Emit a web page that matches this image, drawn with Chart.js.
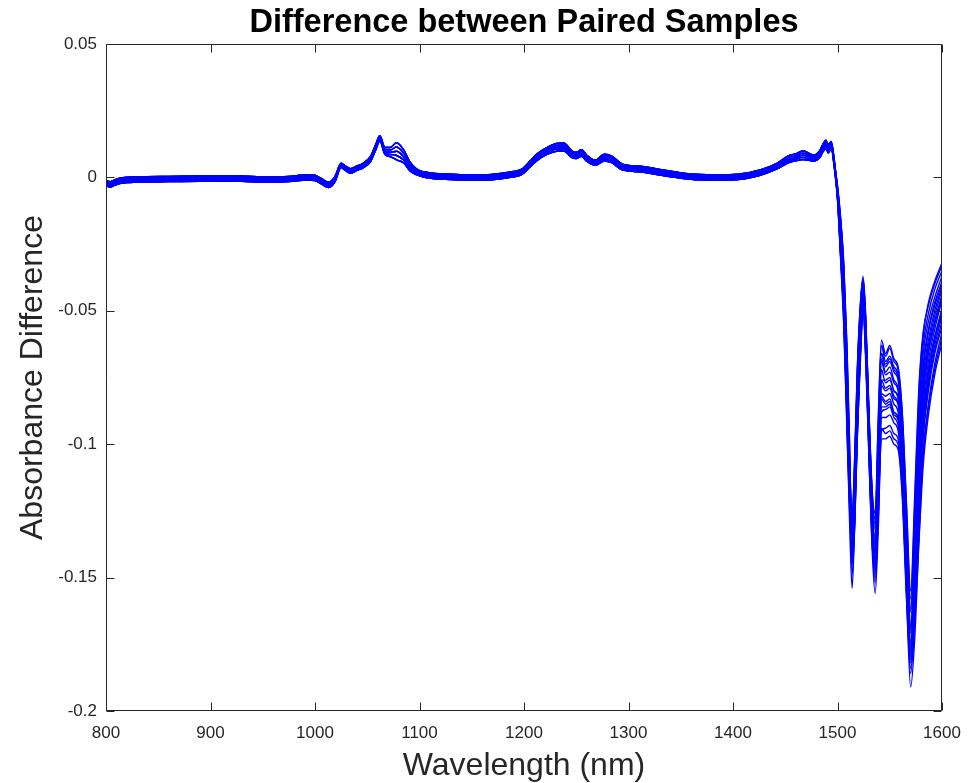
<!DOCTYPE html>
<html>
<head>
<meta charset="utf-8">
<script src="https://cdn.jsdelivr.net/npm/chart.js@4/dist/chart.umd.min.js"></script>
<style>
  html, body { margin: 0; padding: 0; background: #fff; }
  canvas { display: block; }
</style>
</head>
<body>
<canvas id="diffChart" width="978" height="783"></canvas>
<script>
// ---- data ----
const xTicks = [800, 900, 1000, 1100, 1200, 1300, 1400, 1500, 1600];
const yTicks = [-0.2, -0.15, -0.1, -0.05, 0, 0.05];

// shared part of the spectra (800 - 1489 nm): the bundle is tight here, five bands of it
const bodyWl = [800, 804, 808, 813, 822, 835, 860, 890, 906, 930, 954, 975, 992, 1000, 1006, 1013, 1019, 1025, 1029, 1034,
  1040, 1046, 1053, 1058, 1062, 1067, 1072, 1078, 1085, 1091, 1097, 1104, 1115, 1125, 1139, 1160, 1177, 1190, 1198, 1206,
  1212, 1222, 1231, 1238, 1246, 1250, 1255, 1260, 1268, 1277, 1284, 1294, 1311, 1330, 1349, 1368, 1385, 1405, 1426, 1442,
  1453, 1459, 1467, 1472, 1477, 1483, 1486, 1489];

const bodyHigh = [-0.0012, -0.0016, -0.0010, -0.0003, 0.0001, 0.0003, 0.0004, 0.0005, 0.0006, 0.0005, 0.0002, 0.0004, 0.0010, 0.0008, -0.0004, -0.0018, 0.0003, 0.0053, 0.0043, 0.0033,
  0.0043, 0.0053, 0.0078, 0.0122, 0.0156, 0.0112, 0.0112, 0.0130, 0.0102, 0.0057, 0.0032, 0.0021, 0.0015, 0.0013, 0.0010, 0.0009, 0.0015, 0.0022, 0.0031, 0.0062,
  0.0087, 0.0112, 0.0127, 0.0129, 0.0099, 0.0094, 0.0104, 0.0083, 0.0064, 0.0087, 0.0080, 0.0050, 0.0042, 0.0030, 0.0018, 0.0011, 0.0010, 0.0012, 0.0028, 0.0053,
  0.0081, 0.0087, 0.0099, 0.0092, 0.0083, 0.0100, 0.0124, 0.0139];

const bodyMidHigh = [-0.0017, -0.0021, -0.0015, -0.0008, -0.0004, -0.0002, -0.0001, 0.0000, 0.0001, 0.0000, -0.0003, -0.0001, 0.0005, 0.0003, -0.0009, -0.0023, -0.0002, 0.0049, 0.0039, 0.0029,
  0.0039, 0.0049, 0.0073, 0.0117, 0.0152, 0.0105, 0.0103, 0.0114, 0.0089, 0.0047, 0.0026, 0.0016, 0.0010, 0.0008, 0.0005, 0.0004, 0.0010, 0.0017, 0.0026, 0.0056,
  0.0080, 0.0105, 0.0120, 0.0122, 0.0093, 0.0088, 0.0098, 0.0077, 0.0059, 0.0080, 0.0073, 0.0044, 0.0037, 0.0025, 0.0013, 0.0006, 0.0005, 0.0007, 0.0023, 0.0048,
  0.0074, 0.0080, 0.0091, 0.0085, 0.0077, 0.0093, 0.0117, 0.0131];

const bodyMid = [-0.0022, -0.0026, -0.0020, -0.0013, -0.0009, -0.0007, -0.0006, -0.0005, -0.0004, -0.0005, -0.0008, -0.0006, 0.0000, -0.0002, -0.0014, -0.0028, -0.0007, 0.0045, 0.0034, 0.0024,
  0.0034, 0.0044, 0.0068, 0.0112, 0.0148, 0.0098, 0.0094, 0.0098, 0.0076, 0.0038, 0.0020, 0.0011, 0.0005, 0.0003, 0.0000, -0.0001, 0.0005, 0.0012, 0.0021, 0.0050,
  0.0073, 0.0098, 0.0113, 0.0114, 0.0086, 0.0082, 0.0091, 0.0071, 0.0054, 0.0073, 0.0066, 0.0038, 0.0031, 0.0019, 0.0008, 0.0001, 0.0000, 0.0002, 0.0018, 0.0042,
  0.0067, 0.0073, 0.0083, 0.0078, 0.0071, 0.0086, 0.0109, 0.0122];

const bodyMidLow = [-0.0027, -0.0031, -0.0025, -0.0018, -0.0014, -0.0012, -0.0011, -0.0010, -0.0009, -0.0010, -0.0013, -0.0011, -0.0005, -0.0007, -0.0019, -0.0033, -0.0012, 0.0041, 0.0030, 0.0020,
  0.0030, 0.0040, 0.0063, 0.0107, 0.0142, 0.0092, 0.0086, 0.0082, 0.0065, 0.0031, 0.0015, 0.0006, 0.0000, -0.0002, -0.0005, -0.0006, 0.0000, 0.0007, 0.0016, 0.0045,
  0.0067, 0.0092, 0.0106, 0.0107, 0.0080, 0.0077, 0.0085, 0.0066, 0.0050, 0.0067, 0.0060, 0.0033, 0.0026, 0.0014, 0.0003, -0.0004, -0.0005, -0.0003, 0.0013, 0.0037,
  0.0061, 0.0067, 0.0075, 0.0071, 0.0066, 0.0080, 0.0102, 0.0114];

const bodyLow = [-0.0032, -0.0036, -0.0030, -0.0023, -0.0019, -0.0017, -0.0016, -0.0015, -0.0014, -0.0015, -0.0018, -0.0016, -0.0010, -0.0012, -0.0024, -0.0038, -0.0017, 0.0037, 0.0026, 0.0016,
  0.0026, 0.0036, 0.0058, 0.0102, 0.0136, 0.0086, 0.0078, 0.0066, 0.0054, 0.0024, 0.0010, 0.0001, -0.0005, -0.0007, -0.0010, -0.0011, -0.0005, 0.0002, 0.0011, 0.0040,
  0.0062, 0.0086, 0.0098, 0.0099, 0.0074, 0.0071, 0.0079, 0.0061, 0.0045, 0.0061, 0.0055, 0.0028, 0.0021, 0.0009, -0.0002, -0.0009, -0.0010, -0.0008, 0.0008, 0.0032,
  0.0055, 0.0061, 0.0067, 0.0065, 0.0061, 0.0074, 0.0096, 0.0106];

// the 1491 - 1600 nm part, where the paired samples spread apart
const tailWl = [1491, 1494, 1497, 1500, 1503, 1506, 1509, 1511.5, 1514, 1516.5, 1519, 1522, 1524.5, 1527, 1530, 1533,
  1536, 1539, 1542, 1546, 1550, 1554, 1558, 1562, 1566, 1570, 1574, 1578, 1582, 1587, 1593, 1600];

const tails = [
  [0.0122, 0.0136, 0.0065, -0.0050, -0.020, -0.040, -0.075, -0.108, -0.128, -0.105, -0.072, -0.047, -0.037, -0.052, -0.088, -0.118, -0.128, -0.090, -0.061, -0.066, -0.063, -0.068, -0.071, -0.088, -0.122, -0.155, -0.118, -0.078, -0.058, -0.048, -0.040, -0.033],
  [0.0112, 0.0128, 0.0055, -0.0065, -0.024, -0.045, -0.081, -0.114, -0.134, -0.111, -0.078, -0.051, -0.040, -0.056, -0.093, -0.123, -0.135, -0.100, -0.066, -0.070, -0.068, -0.072, -0.075, -0.093, -0.129, -0.163, -0.130, -0.088, -0.066, -0.054, -0.045, -0.037],
  [0.0104, 0.0120, 0.0050, -0.0030, -0.015, -0.032, -0.062, -0.098, -0.138, -0.124, -0.092, -0.060, -0.044, -0.057, -0.090, -0.124, -0.141, -0.112, -0.076, -0.076, -0.075, -0.080, -0.082, -0.099, -0.136, -0.171, -0.146, -0.104, -0.078, -0.063, -0.052, -0.042],
  [0.0110, 0.0121, 0.0045, -0.0080, -0.030, -0.054, -0.092, -0.128, -0.154, -0.128, -0.092, -0.060, -0.045, -0.063, -0.099, -0.132, -0.150, -0.122, -0.082, -0.084, -0.083, -0.088, -0.090, -0.108, -0.146, -0.180, -0.160, -0.120, -0.090, -0.072, -0.060, -0.049],
  [0.0095, 0.0110, 0.0038, -0.0075, -0.028, -0.050, -0.088, -0.120, -0.138, -0.120, -0.092, -0.064, -0.047, -0.066, -0.103, -0.138, -0.156, -0.132, -0.095, -0.094, -0.093, -0.096, -0.098, -0.117, -0.156, -0.191, -0.172, -0.135, -0.104, -0.085, -0.070, -0.058],
  [0.0126, 0.0131, 0.0058, -0.0055, -0.022, -0.043, -0.078, -0.110, -0.131, -0.108, -0.074, -0.049, -0.039, -0.055, -0.090, -0.122, -0.138, -0.104, -0.068, -0.073, -0.071, -0.076, -0.079, -0.096, -0.133, -0.169, -0.140, -0.096, -0.072, -0.058, -0.048, -0.040],
  [0.0100, 0.0118, 0.0048, -0.0035, -0.016, -0.034, -0.066, -0.104, -0.145, -0.130, -0.097, -0.063, -0.046, -0.060, -0.095, -0.130, -0.146, -0.124, -0.088, -0.087, -0.086, -0.090, -0.093, -0.110, -0.147, -0.177, -0.158, -0.122, -0.094, -0.076, -0.063, -0.052],
  [0.0090, 0.0105, 0.0032, -0.0085, -0.031, -0.056, -0.094, -0.124, -0.142, -0.124, -0.096, -0.068, -0.050, -0.069, -0.104, -0.136, -0.148, -0.128, -0.098, -0.098, -0.097, -0.100, -0.102, -0.120, -0.158, -0.184, -0.166, -0.136, -0.108, -0.089, -0.074, -0.062],
  [0.0115, 0.0128, 0.0052, -0.0060, -0.023, -0.044, -0.080, -0.113, -0.136, -0.114, -0.080, -0.052, -0.041, -0.058, -0.092, -0.125, -0.140, -0.108, -0.072, -0.077, -0.076, -0.080, -0.083, -0.100, -0.139, -0.174, -0.150, -0.108, -0.080, -0.065, -0.054, -0.044],
  [0.0105, 0.0122, 0.0050, -0.0040, -0.018, -0.036, -0.070, -0.108, -0.149, -0.130, -0.094, -0.061, -0.046, -0.061, -0.096, -0.129, -0.144, -0.114, -0.078, -0.080, -0.079, -0.083, -0.085, -0.103, -0.141, -0.176, -0.152, -0.112, -0.085, -0.069, -0.057, -0.046],
  [0.0120, 0.0133, 0.0060, -0.0048, -0.019, -0.038, -0.072, -0.106, -0.130, -0.108, -0.076, -0.051, -0.043, -0.057, -0.089, -0.118, -0.132, -0.100, -0.066, -0.071, -0.069, -0.073, -0.076, -0.092, -0.128, -0.162, -0.128, -0.086, -0.063, -0.051, -0.042, -0.035],
  [0.0098, 0.0112, 0.0040, -0.0075, -0.029, -0.052, -0.090, -0.121, -0.139, -0.121, -0.091, -0.064, -0.048, -0.066, -0.101, -0.135, -0.152, -0.126, -0.090, -0.090, -0.089, -0.092, -0.095, -0.113, -0.151, -0.186, -0.164, -0.128, -0.098, -0.080, -0.066, -0.056],
  [0.0118, 0.0129, 0.0055, -0.0058, -0.023, -0.044, -0.079, -0.111, -0.134, -0.110, -0.074, -0.048, -0.038, -0.054, -0.086, -0.117, -0.130, -0.096, -0.063, -0.069, -0.067, -0.071, -0.074, -0.092, -0.131, -0.168, -0.136, -0.094, -0.070, -0.057, -0.047, -0.039],
  [0.0102, 0.0116, 0.0046, -0.0040, -0.017, -0.035, -0.068, -0.106, -0.143, -0.126, -0.093, -0.061, -0.045, -0.060, -0.094, -0.127, -0.141, -0.116, -0.081, -0.082, -0.081, -0.085, -0.088, -0.106, -0.144, -0.179, -0.156, -0.117, -0.089, -0.072, -0.060, -0.050],
  [0.0092, 0.0108, 0.0036, -0.0080, -0.029, -0.051, -0.088, -0.118, -0.132, -0.116, -0.090, -0.066, -0.049, -0.067, -0.101, -0.133, -0.147, -0.126, -0.094, -0.096, -0.095, -0.098, -0.100, -0.118, -0.154, -0.182, -0.164, -0.132, -0.104, -0.086, -0.072, -0.060],
  [0.0112, 0.0124, 0.0052, -0.0062, -0.024, -0.046, -0.083, -0.115, -0.138, -0.115, -0.080, -0.053, -0.042, -0.058, -0.091, -0.123, -0.137, -0.104, -0.069, -0.074, -0.073, -0.077, -0.080, -0.098, -0.136, -0.170, -0.142, -0.100, -0.075, -0.061, -0.050, -0.041],
  [0.0124, 0.0134, 0.0062, -0.0050, -0.020, -0.040, -0.074, -0.107, -0.127, -0.104, -0.071, -0.047, -0.038, -0.053, -0.087, -0.116, -0.126, -0.092, -0.063, -0.067, -0.064, -0.069, -0.072, -0.089, -0.124, -0.158, -0.122, -0.080, -0.059, -0.047, -0.039, -0.032],
  [0.0096, 0.0112, 0.0042, -0.0040, -0.016, -0.033, -0.064, -0.100, -0.141, -0.128, -0.097, -0.065, -0.048, -0.063, -0.098, -0.131, -0.145, -0.120, -0.086, -0.086, -0.085, -0.089, -0.091, -0.109, -0.148, -0.178, -0.160, -0.124, -0.096, -0.078, -0.065, -0.054],
  [0.0108, 0.0120, 0.0048, -0.0068, -0.026, -0.048, -0.085, -0.117, -0.140, -0.118, -0.084, -0.056, -0.044, -0.060, -0.094, -0.126, -0.143, -0.112, -0.076, -0.079, -0.078, -0.082, -0.085, -0.103, -0.141, -0.175, -0.148, -0.108, -0.082, -0.066, -0.055, -0.045],
  [0.0100, 0.0114, 0.0040, -0.0072, -0.027, -0.050, -0.087, -0.118, -0.136, -0.117, -0.087, -0.059, -0.046, -0.063, -0.098, -0.131, -0.146, -0.118, -0.083, -0.085, -0.084, -0.088, -0.090, -0.108, -0.146, -0.181, -0.158, -0.119, -0.091, -0.074, -0.061, -0.051]
];

const bodies = [bodyHigh, bodyMidHigh, bodyMid, bodyMidLow, bodyLow];

// ---- style ----
const FONT = "'Liberation Sans', Arial, Helvetica, sans-serif";
const AXIS_COLOR = "#262626";
const LINE_COLOR = "#0000ff";
const TICK_LEN = 8;

const datasets = tails.map((tail, i) => {
    const body = bodies[i % bodies.length];
    const pts = bodyWl.map((w, j) => ({ x: w, y: body[j] }))
        .concat(tailWl.map((w, j) => ({ x: w, y: tail[j] })));
    return {
        data: pts,
        borderColor: LINE_COLOR,
        borderWidth: 1.4,
        pointRadius: 0,
        fill: false,
        cubicInterpolationMode: "monotone"
    };
});

// MATLAB-like box: outline on all four sides with inward ticks
const boxPlugin = {
    id: "matlabBox",
    afterDraw(chart) {
        const { ctx, chartArea: a, scales: { x, y } } = chart;
        const L = Math.round(a.left) + 0.5, R = Math.round(a.right) - 0.5;
        const T = Math.round(a.top) + 0.5, B = Math.round(a.bottom) - 0.5;
        ctx.save();
        ctx.strokeStyle = AXIS_COLOR;
        ctx.lineWidth = 1;
        ctx.beginPath();
        ctx.rect(L, T, R - L, B - T);
        xTicks.forEach(v => {
            const px = Math.round(x.getPixelForValue(v)) + 0.5;
            ctx.moveTo(px, B); ctx.lineTo(px, B - TICK_LEN);
            ctx.moveTo(px, T); ctx.lineTo(px, T + TICK_LEN);
        });
        yTicks.forEach(v => {
            const py = Math.round(y.getPixelForValue(v)) + 0.5;
            ctx.moveTo(L, py); ctx.lineTo(L + TICK_LEN, py);
            ctx.moveTo(R, py); ctx.lineTo(R - TICK_LEN, py);
        });
        ctx.stroke();
        ctx.restore();
    }
};

new Chart(document.getElementById("diffChart"), {
    type: "line",
    data: { datasets },
    options: {
        responsive: false,
        animation: false,
        events: [],
        layout: { padding: { left: 0, right: 36, top: 0, bottom: 0 } },
        plugins: {
            legend: { display: false },
            tooltip: { enabled: false },
            title: {
                display: true,
                text: "Difference between Paired Samples",
                fullSize: false,
                color: "#000",
                font: { family: FONT, size: 32.5, weight: "bold", lineHeight: 1.2 },
                padding: { top: 4, bottom: 1 }
            }
        },
        scales: {
            x: {
                type: "linear",
                min: 800,
                max: 1600,
                afterFit: s => { s.height = 72; },
                afterBuildTicks: s => { s.ticks = xTicks.map(v => ({ value: v })); },
                grid: { display: false, drawTicks: false },
                border: { display: false },
                ticks: {
                    color: AXIS_COLOR,
                    padding: 12,
                    font: { family: FONT, size: 17 },
                    callback: v => String(v)
                },
                title: {
                    display: true,
                    text: "Wavelength (nm)",
                    color: AXIS_COLOR,
                    font: { family: FONT, size: 32, lineHeight: 1.05 },
                    padding: { top: 0, bottom: 0 }
                }
            },
            y: {
                min: -0.2,
                max: 0.05,
                afterFit: s => { s.width = 106; },
                afterBuildTicks: s => { s.ticks = yTicks.map(v => ({ value: v })); },
                grid: { display: false, drawTicks: false },
                border: { display: false },
                ticks: {
                    color: AXIS_COLOR,
                    padding: 9,
                    font: { family: FONT, size: 17 },
                    callback: v => String(+v.toFixed(2))
                },
                title: {
                    display: true,
                    text: "Absorbance Difference",
                    color: AXIS_COLOR,
                    font: { family: FONT, size: 32, lineHeight: 1.2 },
                    padding: { top: 14, bottom: 0 }
                }
            }
        }
    },
    plugins: [boxPlugin]
});
</script>
</body>
</html>
